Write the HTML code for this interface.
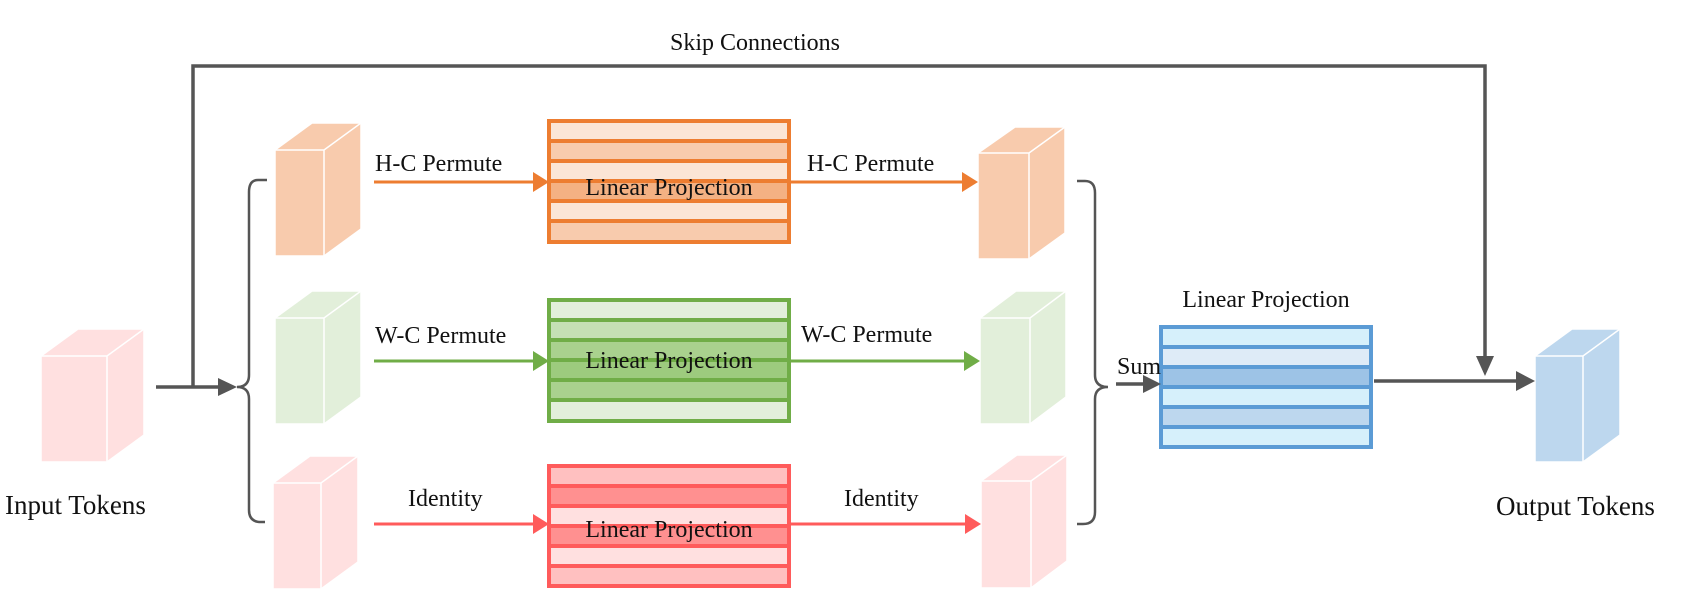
<!DOCTYPE html>
<html><head><meta charset="utf-8"><style>html,body{margin:0;padding:0;background:#fff}svg{display:block}text{font-family:"Liberation Serif",serif;fill:#111}</style></head><body>
<svg width="1686" height="594" viewBox="0 0 1686 594" xmlns="http://www.w3.org/2000/svg">
<defs>
<marker id="ag" markerWidth="10" markerHeight="10" refX="9" refY="5" orient="auto" markerUnits="userSpaceOnUse"><path d="M0,0 L18,5 L0,10z" transform="scale(0.55,1)" fill="#555"/></marker>
</defs>
<g stroke="#fff" stroke-width="1.5">
<!-- input cube -->
<g fill="#FFE0E0"><polygon points="41,356 78,329 144,329 144,435 107,462 41,462"/></g>
<path d="M41,356 H107 L144,329 M107,356 V462" fill="none"/>
<!-- left column -->
<polygon points="275,150 312,123 361,123 361,229 324,256 275,256" fill="#F8CBAD"/>
<path d="M275,150 H324 L361,123 M324,150 V256" fill="none"/>
<polygon points="275,318 312,291 361,291 361,397 324,424 275,424" fill="#E2EFDA"/>
<path d="M275,318 H324 L361,291 M324,318 V424" fill="none"/>
<polygon points="273,483 310,456 358,456 358,562 321,589 273,589" fill="#FFE0E0"/>
<path d="M273,483 H321 L358,456 M321,483 V589" fill="none"/>
<!-- right column -->
<polygon points="978,153 1015,127 1065,127 1065,233 1029,259 978,259" fill="#F8CBAD"/>
<path d="M978,153 H1029 L1065,127 M1029,153 V259" fill="none"/>
<polygon points="980,318 1016,291 1066,291 1066,397 1030,424 980,424" fill="#E2EFDA"/>
<path d="M980,318 H1030 L1066,291 M1030,318 V424" fill="none"/>
<polygon points="981,481 1017,455 1067,455 1067,561 1031,588 981,588" fill="#FFE0E0"/>
<path d="M981,481 H1031 L1067,455 M1031,481 V588" fill="none"/>
<!-- output cube -->
<polygon points="1535,356 1572,329 1620,329 1620,435 1583,462 1535,462" fill="#BDD7EE"/>
<path d="M1535,356 H1583 L1620,329 M1583,356 V462" fill="none"/>
</g>

<!-- projection boxes -->
<g stroke-width="4">
<g stroke="#ED7D31">
<rect x="549" y="121" width="240" height="20" fill="#FBE5D6"/><rect x="549" y="141" width="240" height="20" fill="#F8CBAD"/><rect x="549" y="161" width="240" height="20" fill="#FBE5D6"/><rect x="549" y="181" width="240" height="20" fill="#F4B183"/><rect x="549" y="201" width="240" height="20" fill="#FBE5D6"/><rect x="549" y="221" width="240" height="21" fill="#F8CBAD"/>
</g>
<g stroke="#70AD47">
<rect x="549" y="300" width="240" height="20" fill="#E2EFDA"/><rect x="549" y="320" width="240" height="20" fill="#C5E0B4"/><rect x="549" y="340" width="240" height="20" fill="#A9D18E"/><rect x="549" y="360" width="240" height="20" fill="#9DCB7E"/><rect x="549" y="380" width="240" height="20" fill="#A9D18E"/><rect x="549" y="400" width="240" height="21" fill="#E2EFDA"/>
</g>
<g stroke="#FF5B5B">
<rect x="549" y="466" width="240" height="20" fill="#FFC0C0"/><rect x="549" y="486" width="240" height="20" fill="#FF9090"/><rect x="549" y="506" width="240" height="20" fill="#FFE0E0"/><rect x="549" y="526" width="240" height="20" fill="#FF9090"/><rect x="549" y="546" width="240" height="20" fill="#FFE0E0"/><rect x="549" y="566" width="240" height="20" fill="#FFC0C0"/>
</g>
<g stroke="#5B9BD5">
<rect x="1161" y="327" width="210" height="20" fill="#D6F0FB"/><rect x="1161" y="347" width="210" height="20" fill="#DEEBF7"/><rect x="1161" y="367" width="210" height="20" fill="#9DC3E6"/><rect x="1161" y="387" width="210" height="20" fill="#D6F0FB"/><rect x="1161" y="407" width="210" height="20" fill="#BDD7EE"/><rect x="1161" y="427" width="210" height="20" fill="#D6F0FB"/>
</g>
</g>

<!-- colored arrows -->
<g stroke-width="3" fill="none">
<path d="M374,182 H535" stroke="#ED7D31"/><path d="M790,182 H965" stroke="#ED7D31"/>
<path d="M374,361 H535" stroke="#70AD47"/><path d="M790,361 H967" stroke="#70AD47"/>
<path d="M374,524 H535" stroke="#FF5B5B"/><path d="M790,524 H968" stroke="#FF5B5B"/>
</g>
<polygon points="533,172 549,182 533,192" fill="#ED7D31"/><polygon points="962,172 978,182 962,192" fill="#ED7D31"/>
<polygon points="533,351 549,361 533,371" fill="#70AD47"/><polygon points="964,351 980,361 964,371" fill="#70AD47"/>
<polygon points="533,514 549,524 533,534" fill="#FF5B5B"/><polygon points="965,514 981,524 965,534" fill="#FF5B5B"/>

<!-- gray lines -->
<g stroke="#555" fill="none" stroke-width="3.5">
<path d="M156,387 H222"/>
<path d="M193,387 V66 H1485 V360"/>
<path d="M1116,384 H1145"/>
<path d="M1374,381 H1520"/>
</g>
<polygon points="218,378 237,387 218,396" fill="#555"/>
<polygon points="1476,356 1485,376 1494,356" fill="#555"/>
<polygon points="1143,375 1161,384 1143,393" fill="#555"/>
<polygon points="1516,371 1535,381 1516,391" fill="#555"/>
<g stroke="#555" fill="none" stroke-width="2.5">
<path d="M267,180 H258 Q249,180 249,192 V375 Q249,387 237,387 Q249,387 249,399 V510 Q249,522 261,522 H265"/>
<path d="M1077,181 H1085 Q1095,181 1095,193 V375 Q1095,387 1108,387 Q1095,387 1095,399 V512 Q1095,524 1083,524 H1077"/>
</g>

<!-- text -->
<g font-size="24">
<text x="755" y="50" text-anchor="middle">Skip Connections</text>
<text x="375" y="171">H-C Permute</text>
<text x="807" y="171">H-C Permute</text>
<text x="375" y="343">W-C Permute</text>
<text x="801" y="342">W-C Permute</text>
<text x="408" y="506">Identity</text>
<text x="844" y="506">Identity</text>
<text x="669" y="195" text-anchor="middle">Linear Projection</text>
<text x="669" y="368" text-anchor="middle">Linear Projection</text>
<text x="669" y="537" text-anchor="middle">Linear Projection</text>
<text x="1266" y="307" text-anchor="middle">Linear Projection</text>
<text x="1117" y="374">Sum</text>
</g>
<text x="5" y="514" font-size="27">Input Tokens</text>
<text x="1496" y="515" font-size="27">Output Tokens</text>
</svg>
</body></html>
